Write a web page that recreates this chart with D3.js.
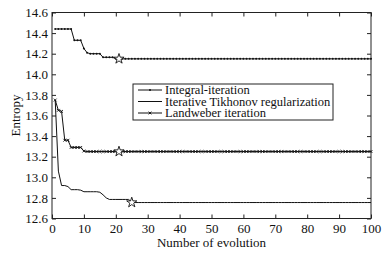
<!DOCTYPE html>
<html lang="en">
<head>
<meta charset="UTF-8"/>
<title>Entropy vs number of evolution</title>
<script src="https://d3js.org/d3.v7.min.js"></script>
<style>
  body { margin: 0; background: #fff; }
  svg text { fill: #111; }
</style>
</head>
<body>
<div id="chart"></div>
<script>
    // iterations 1..100
    var integralIter = [
        14.44, 14.44, 14.44, 14.44, 14.44, 14.44, 14.33, 14.33, 14.33, 14.25,
        14.21, 14.20, 14.20, 14.20, 14.20, 14.165, 14.165, 14.165, 14.165, 14.15,
        14.15, 14.15, 14.15, 14.15, 14.15, 14.15, 14.15, 14.15, 14.15, 14.15,
        14.15, 14.15, 14.15, 14.15, 14.15, 14.15, 14.15, 14.15, 14.15, 14.15,
        14.15, 14.15, 14.15, 14.15, 14.15, 14.15, 14.15, 14.15, 14.15, 14.15,
        14.15, 14.15, 14.15, 14.15, 14.15, 14.15, 14.15, 14.15, 14.15, 14.15,
        14.15, 14.15, 14.15, 14.15, 14.15, 14.15, 14.15, 14.15, 14.15, 14.15,
        14.15, 14.15, 14.15, 14.15, 14.15, 14.15, 14.15, 14.15, 14.15, 14.15,
        14.15, 14.15, 14.15, 14.15, 14.15, 14.15, 14.15, 14.15, 14.15, 14.15,
        14.15, 14.15, 14.15, 14.15, 14.15, 14.15, 14.15, 14.15, 14.15, 14.15
    ];
    var tikhonov = [
        13.75, 13.06, 12.92, 12.92, 12.91, 12.88, 12.88, 12.88, 12.875, 12.86,
        12.86, 12.86, 12.86, 12.86, 12.855, 12.83, 12.80, 12.785, 12.785, 12.785,
        12.785, 12.785, 12.785, 12.785, 12.76, 12.755, 12.755, 12.755, 12.755, 12.755,
        12.755, 12.755, 12.755, 12.755, 12.755, 12.755, 12.755, 12.755, 12.755, 12.755,
        12.755, 12.755, 12.755, 12.755, 12.755, 12.755, 12.755, 12.755, 12.755, 12.755,
        12.755, 12.755, 12.755, 12.755, 12.755, 12.755, 12.755, 12.755, 12.755, 12.755,
        12.755, 12.755, 12.755, 12.755, 12.755, 12.755, 12.755, 12.755, 12.755, 12.755,
        12.755, 12.755, 12.755, 12.755, 12.755, 12.755, 12.755, 12.755, 12.755, 12.755,
        12.755, 12.755, 12.755, 12.755, 12.755, 12.755, 12.755, 12.755, 12.755, 12.755,
        12.755, 12.755, 12.755, 12.755, 12.755, 12.755, 12.755, 12.755, 12.755, 12.755
    ];
    var landweber = [
        13.75, 13.65, 13.64, 13.36, 13.36, 13.29, 13.29, 13.29, 13.29, 13.255,
        13.25, 13.25, 13.25, 13.25, 13.25, 13.25, 13.25, 13.25, 13.25, 13.25,
        13.25, 13.25, 13.25, 13.25, 13.25, 13.25, 13.25, 13.25, 13.25, 13.25,
        13.25, 13.25, 13.25, 13.25, 13.25, 13.25, 13.25, 13.25, 13.25, 13.25,
        13.25, 13.25, 13.25, 13.25, 13.25, 13.25, 13.25, 13.25, 13.25, 13.25,
        13.25, 13.25, 13.25, 13.25, 13.25, 13.25, 13.25, 13.25, 13.25, 13.25,
        13.25, 13.25, 13.25, 13.25, 13.25, 13.25, 13.25, 13.25, 13.25, 13.25,
        13.25, 13.25, 13.25, 13.25, 13.25, 13.25, 13.25, 13.25, 13.25, 13.25,
        13.25, 13.25, 13.25, 13.25, 13.25, 13.25, 13.25, 13.25, 13.25, 13.25,
        13.25, 13.25, 13.25, 13.25, 13.25, 13.25, 13.25, 13.25, 13.25, 13.25
    ];
    // convergence points marked with a star
    var starX = [21, 21, 25];
    var starY = [14.15, 13.25, 12.755];

    var legendNames = ["Integral-iteration", "Iterative Tikhonov regularization", "Landweber iteration"];
    var xTicks = [0, 10, 20, 30, 40, 50, 60, 70, 80, 90, 100];
    var yTicks = [12.6, 12.8, 13.0, 13.2, 13.4, 13.6, 13.8, 14.0, 14.2, 14.4, 14.6];

    let width = 386;
    let height = 253;
    var plotL = 52, plotR = 371, plotT = 12.5, plotB = 218.5;
    var serif = "Liberation Serif";

    var xScale = d3.scaleLinear().domain([0, 100]).range([plotL, plotR]);
    var yScale = d3.scaleLinear().domain([12.6, 14.6]).range([plotB, plotT]);

    var svg = d3.select("#chart").append("svg").attr("width", width).attr("height", height)
        .attr("font-family", serif);

    // axes, ticks pointing inward
    svg.append("g").attr("transform", "translate(0," + plotB + ")")
        .call(d3.axisBottom(xScale).tickValues(xTicks).tickSize(-4).tickPadding(5).tickFormat(d3.format("d")));
    svg.append("g").attr("transform", "translate(0," + plotT + ")")
        .call(d3.axisTop(xScale).tickValues(xTicks).tickSize(-4).tickFormat(""));
    svg.append("g").attr("transform", "translate(" + plotL + ",0)")
        .call(d3.axisLeft(yScale).tickValues(yTicks).tickSize(-4).tickPadding(4).tickFormat(d3.format(".1f")));
    svg.append("g").attr("transform", "translate(" + plotR + ",0)")
        .call(d3.axisRight(yScale).tickValues(yTicks).tickSize(-4).tickFormat(""));
    svg.selectAll(".domain").remove();
    svg.selectAll("g").attr("font-family", serif);
    svg.selectAll(".tick line").attr("stroke", "#222");
    svg.selectAll(".tick text").attr("font-size", 13);

    svg.append("rect").attr("x", plotL).attr("y", plotT)
        .attr("width", plotR - plotL).attr("height", plotB - plotT)
        .attr("fill", "none").attr("stroke", "#222").attr("stroke-width", 1);

    var line = d3.line()
        .x(function (d, i) { return xScale(i + 1); })
        .y(function (d) { return yScale(d); });

    [integralIter, tikhonov, landweber].forEach(function (s) {
        svg.append("path").datum(s).attr("d", line)
            .attr("fill", "none").attr("stroke", "#111").attr("stroke-width", 1);
    });

    // dot markers
    svg.append("g").selectAll("circle").data(integralIter).enter().append("circle")
        .attr("cx", function (d, i) { return xScale(i + 1); })
        .attr("cy", function (d) { return yScale(d); })
        .attr("r", 1).attr("fill", "#111");

    // x markers
    var cross = "M-1.4,-1.4L1.4,1.4M-1.4,1.4L1.4,-1.4";
    svg.append("g").selectAll("path").data(landweber).enter().append("path")
        .attr("transform", function (d, i) { return "translate(" + xScale(i + 1) + "," + yScale(d) + ")"; })
        .attr("d", cross).attr("stroke", "#111").attr("stroke-width", 0.9).attr("fill", "none");

    // stars
    var star = d3.symbol().type(d3.symbolStar).size(32);
    svg.append("g").selectAll("path").data(starX).enter().append("path")
        .attr("transform", function (d, i) { return "translate(" + xScale(d) + "," + yScale(starY[i]) + ")"; })
        .attr("d", star).attr("fill", "#fff").attr("stroke", "#111").attr("stroke-width", 0.9);

    // legend
    var lg = svg.append("g");
    lg.append("rect").attr("x", 133).attr("y", 84).attr("width", 200).attr("height", 36)
        .attr("fill", "#fff").attr("stroke", "#222").attr("stroke-width", 1);
    var rowY = [90, 101.5, 113];
    legendNames.forEach(function (name, i) {
        lg.append("line").attr("x1", 138).attr("x2", 162).attr("y1", rowY[i]).attr("y2", rowY[i])
            .attr("stroke", "#111").attr("stroke-width", 1);
        if (i === 0) {
            lg.append("circle").attr("cx", 150).attr("cy", rowY[i]).attr("r", 1).attr("fill", "#111");
        }
        if (i === 2) {
            lg.append("path").attr("transform", "translate(150," + rowY[i] + ")")
                .attr("d", cross).attr("stroke", "#111").attr("stroke-width", 0.9);
        }
        lg.append("text").attr("x", 165).attr("y", rowY[i] + 4)
            .attr("font-size", 12.5).text(name);
    });

    // axis labels
    svg.append("text")
        .attr("text-anchor", "middle")
        .attr("x", (plotL + plotR) / 2)
        .attr("y", 247)
        .attr("font-size", 13)
        .text("Number of evolution");

    svg.append("text")
        .attr("text-anchor", "middle")
        .attr("transform", "translate(20," + ((plotT + plotB) / 2) + ") rotate(-90)")
        .attr("font-size", 13)
        .text("Entropy");
</script>
</body>
</html>
